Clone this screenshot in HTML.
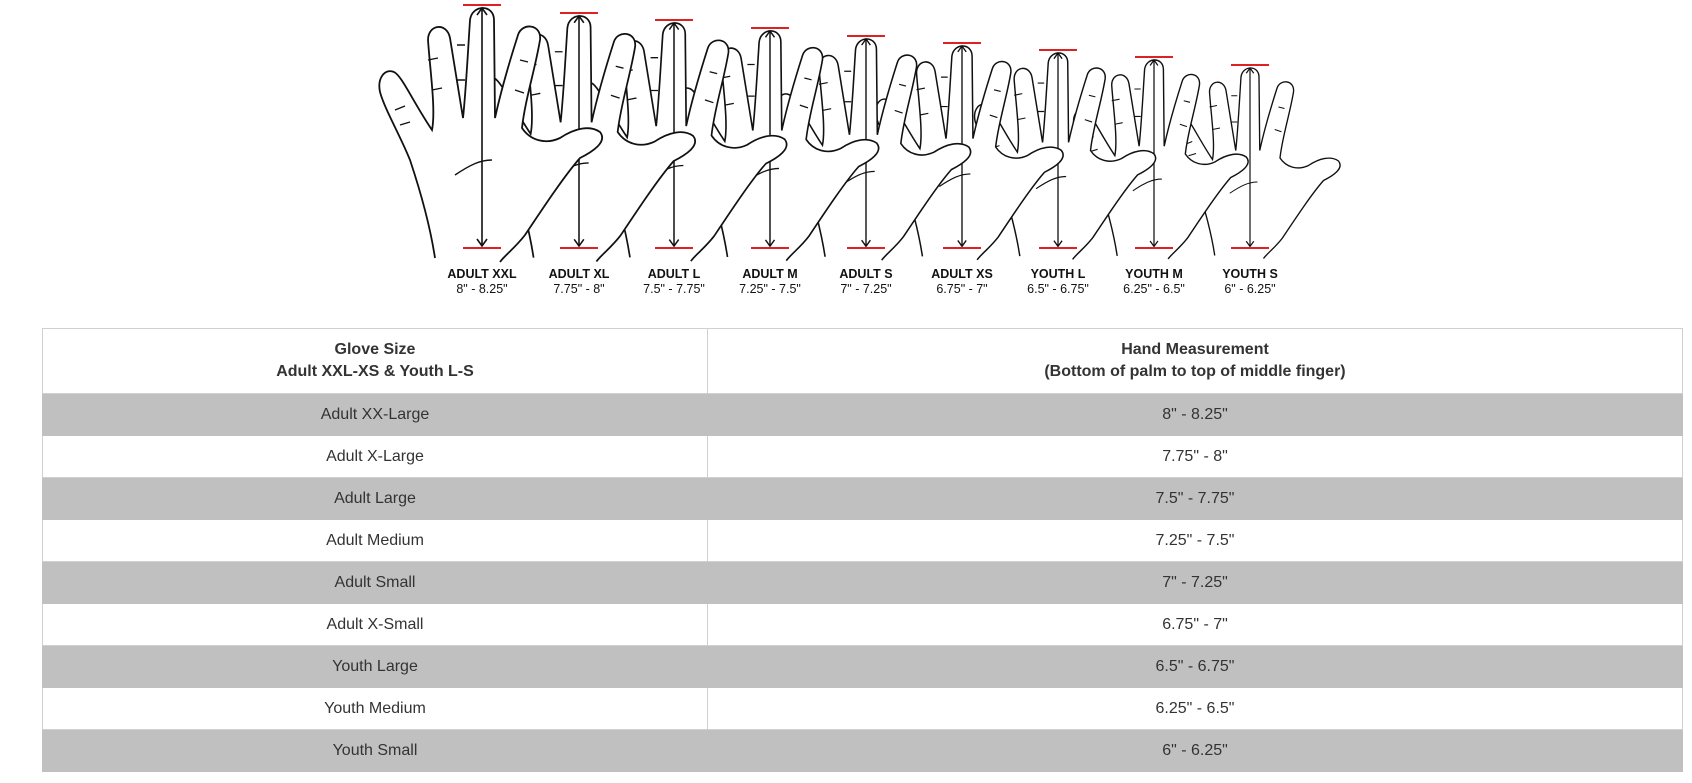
<!DOCTYPE html>
<html><head><style>
body{margin:0;width:1692px;height:783px;background:#fff;overflow:hidden;font-family:"Liberation Sans",sans-serif;position:relative}
svg{position:absolute;left:0;top:0}
table{position:absolute;left:42px;top:328px;width:1641px;border-collapse:collapse;color:#333;font-size:16px}
td,th{border:1px solid #d0d0d0;text-align:center;height:41px;padding:0}
th{height:64px;font-weight:bold;line-height:22px}
tr.g td{background:#c0c0c0;border-color:#c0c0c0}
td:first-child,th:first-child{width:664px}
</style></head><body>
<svg width="1692" height="300" viewBox="0 0 1692 300" xmlns="http://www.w3.org/2000/svg" xmlns:xlink="http://www.w3.org/1999/xlink">
<defs>
<g id="h">
<path d="M435,258 C430,225 420,190 410,160 C400,135 385,110 380,92 C377,78 385,68 394,72 C402,76 412,100 432,130 C436,110 430,70 428,40 C428,24 447,22 450,38 C455,70 460,100 463,118 C466,90 468,50 470,20 C472,4 494,4 494,20 L495,118 C500,95 510,60 518,35 C522,22 542,24 540,40 C535,70 525,100 522,128 C530,140 545,145 560,138 C575,128 590,125 600,132 C608,142 592,152 580,158 C565,175 545,205 525,235 C515,248 505,255 500,262 L435,262 Z" fill="#fff" stroke="none"/>
<path d="M435,258 C430,225 420,190 410,160 C400,135 385,110 380,92 C377,78 385,68 394,72 C402,76 412,100 432,130 C436,110 430,70 428,40 C428,24 447,22 450,38 C455,70 460,100 463,118 C466,90 468,50 470,20 C472,4 494,4 494,20 L495,118 C500,95 510,60 518,35 C522,22 542,24 540,40 C535,70 525,100 522,128 C530,140 545,145 560,138 C575,128 590,125 600,132 C608,142 592,152 580,158 C565,175 545,205 525,235 C515,248 505,255 500,262" fill="none" stroke="#111" stroke-width="1.8"/>
<path d="M455,175 C470,165 480,160 492,160 M395,110 l10,-4 M400,125 l10,-3 M428,60 l10,-2 M432,90 l10,-2 M465,45 l-8,0 M465,80 l-8,0 M520,60 l8,2 M515,90 l9,3" fill="none" stroke="#111" stroke-width="1.4"/>
<line x1="482" y1="8" x2="482" y2="246" stroke="#111" stroke-width="1.6"/>
<path d="M477,15 L482,8 L487,15 M477,239 L482,246 L487,239" fill="none" stroke="#111" stroke-width="1.6"/>
</g>
</defs>
<g transform="translate(1250,248) scale(0.75) translate(-482,-248)"><use href="#h" xlink:href="#h"/></g>
<g transform="translate(1154,248) scale(0.7833) translate(-482,-248)"><use href="#h" xlink:href="#h"/></g>
<g transform="translate(1058,248) scale(0.8125) translate(-482,-248)"><use href="#h" xlink:href="#h"/></g>
<g transform="translate(962,248) scale(0.8417) translate(-482,-248)"><use href="#h" xlink:href="#h"/></g>
<g transform="translate(866,248) scale(0.8708) translate(-482,-248)"><use href="#h" xlink:href="#h"/></g>
<g transform="translate(770,248) scale(0.9042) translate(-482,-248)"><use href="#h" xlink:href="#h"/></g>
<g transform="translate(674,248) scale(0.9375) translate(-482,-248)"><use href="#h" xlink:href="#h"/></g>
<g transform="translate(579,248) scale(0.9667) translate(-482,-248)"><use href="#h" xlink:href="#h"/></g>
<g transform="translate(482,248) scale(1) translate(-482,-248)"><use href="#h" xlink:href="#h"/></g>
<g stroke="#d22" stroke-width="2">
<line x1="463" y1="5" x2="501" y2="5"/><line x1="560" y1="13" x2="598" y2="13"/><line x1="655" y1="20" x2="693" y2="20"/>
<line x1="751" y1="28" x2="789" y2="28"/><line x1="847" y1="36" x2="885" y2="36"/><line x1="943" y1="43" x2="981" y2="43"/>
<line x1="1039" y1="50" x2="1077" y2="50"/><line x1="1135" y1="57" x2="1173" y2="57"/><line x1="1231" y1="65" x2="1269" y2="65"/>
<line x1="463" y1="248" x2="501" y2="248"/><line x1="560" y1="248" x2="598" y2="248"/><line x1="655" y1="248" x2="693" y2="248"/>
<line x1="751" y1="248" x2="789" y2="248"/><line x1="847" y1="248" x2="885" y2="248"/><line x1="943" y1="248" x2="981" y2="248"/>
<line x1="1039" y1="248" x2="1077" y2="248"/><line x1="1135" y1="248" x2="1173" y2="248"/><line x1="1231" y1="248" x2="1269" y2="248"/>
</g>
<g font-size="12.5" text-anchor="middle" fill="#111">
<text x="482" y="278" font-weight="bold">ADULT XXL</text><text x="482" y="293">8" - 8.25"</text>
<text x="579" y="278" font-weight="bold">ADULT XL</text><text x="579" y="293">7.75" - 8"</text>
<text x="674" y="278" font-weight="bold">ADULT L</text><text x="674" y="293">7.5" - 7.75"</text>
<text x="770" y="278" font-weight="bold">ADULT M</text><text x="770" y="293">7.25" - 7.5"</text>
<text x="866" y="278" font-weight="bold">ADULT S</text><text x="866" y="293">7" - 7.25"</text>
<text x="962" y="278" font-weight="bold">ADULT XS</text><text x="962" y="293">6.75" - 7"</text>
<text x="1058" y="278" font-weight="bold">YOUTH L</text><text x="1058" y="293">6.5" - 6.75"</text>
<text x="1154" y="278" font-weight="bold">YOUTH M</text><text x="1154" y="293">6.25" - 6.5"</text>
<text x="1250" y="278" font-weight="bold">YOUTH S</text><text x="1250" y="293">6" - 6.25"</text>
</g>
</svg>
<table>
<tr><th>Glove Size<br>Adult XXL-XS &amp; Youth L-S</th><th>Hand Measurement<br>(Bottom of palm to top of middle finger)</th></tr>
<tr class="g"><td>Adult XX-Large</td><td>8" - 8.25"</td></tr>
<tr><td>Adult X-Large</td><td>7.75" - 8"</td></tr>
<tr class="g"><td>Adult Large</td><td>7.5" - 7.75"</td></tr>
<tr><td>Adult Medium</td><td>7.25" - 7.5"</td></tr>
<tr class="g"><td>Adult Small</td><td>7" - 7.25"</td></tr>
<tr><td>Adult X-Small</td><td>6.75" - 7"</td></tr>
<tr class="g"><td>Youth Large</td><td>6.5" - 6.75"</td></tr>
<tr><td>Youth Medium</td><td>6.25" - 6.5"</td></tr>
<tr class="g"><td>Youth Small</td><td>6" - 6.25"</td></tr>
</table>
</body></html>
